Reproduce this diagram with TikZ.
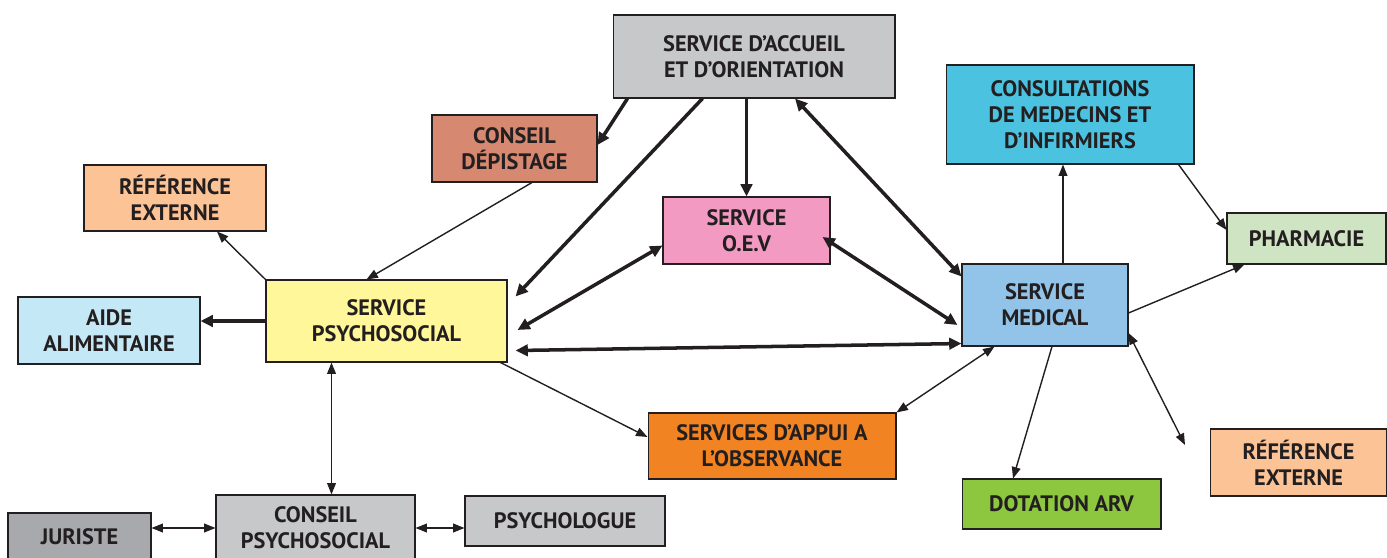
\documentclass[tikz,border=0pt]{standalone}
\usepackage{fontspec}
\setmainfont{PT Sans}
\usetikzlibrary{arrows.meta,positioning}
\definecolor{encre}{HTML}{231F20}
\definecolor{gris}{HTML}{C7C8CA}
\definecolor{grisfonce}{HTML}{A7A9AC}
\definecolor{brique}{HTML}{D78870}
\definecolor{peche}{HTML}{FCC397}
\definecolor{rose}{HTML}{F39AC3}
\definecolor{cyan}{HTML}{4BC3E0}
\definecolor{vertpale}{HTML}{CFE4C3}
\definecolor{jaune}{HTML}{FFF799}
\definecolor{bleupale}{HTML}{C5E8F7}
\definecolor{bleu}{HTML}{92C3E8}
\definecolor{orange}{HTML}{F28322}
\definecolor{vert}{HTML}{8DC63F}
\begin{document}
\begin{tikzpicture}[x=0.02cm,y=-0.02cm,
	box/.style={draw=encre,line width=0.6pt,text=encre,align=center,inner sep=0pt,
		font=\bfseries\fontsize{12.7}{14.7}\selectfont},
	lien/.style={draw=encre,line width=0.8pt,-{Triangle[length=6.5pt,width=5pt]}},
	lien2/.style={draw=encre,line width=0.8pt,{Triangle[length=6.5pt,width=5pt]}-{Triangle[length=6.5pt,width=5pt]}},
	fort/.style={draw=encre,line width=2pt,-{Triangle[length=7pt,width=6.5pt]}},
	fort2/.style={draw=encre,line width=2pt,{Triangle[length=7pt,width=6.5pt]}-{Triangle[length=7pt,width=6.5pt]}}]
	\clip (0,0) rectangle (1387,558);
	% Services
	\node[box,fill=gris,minimum width=5.64cm,minimum height=1.66cm] (accueil) at (754,56.5) {SERVICE D’ACCUEIL\\ET D’ORIENTATION};
	\node[box,fill=brique,minimum width=3.3cm,minimum height=1.34cm] (depist) at (514.5,148.5) {CONSEIL\\DÉPISTAGE};
	\node[box,fill=peche,minimum width=3.64cm,minimum height=1.32cm] (refA) at (175,198) {RÉFÉRENCE\\EXTERNE};
	\node[box,fill=rose,minimum width=3.34cm,minimum height=1.34cm] (oev) at (746.5,230.5) {SERVICE\\O.E.V};
	\node[box,fill=cyan,minimum width=4.96cm,minimum height=1.98cm] (consult) at (1070,114.5) {CONSULTATIONS\\DE MEDECINS ET\\D’INFIRMIERS};
	\node[box,fill=vertpale,minimum width=3.18cm,minimum height=1.02cm] (pharma) at (1306.5,238.5) {PHARMACIE};
	\node[box,fill=jaune,minimum width=4.82cm,minimum height=1.64cm] (psycho) at (386.5,321) {SERVICE\\PSYCHOSOCIAL};
	\node[box,fill=bleupale,minimum width=3.64cm,minimum height=1.34cm] (aide) at (109,330.5) {AIDE\\ALIMENTAIRE};
	\node[box,fill=bleu,minimum width=3.32cm,minimum height=1.64cm] (medical) at (1045,305) {SERVICE\\MEDICAL};
	\node[box,fill=orange,minimum width=4.96cm,minimum height=1.32cm] (appui) at (772,446) {SERVICES D’APPUI A\\L’OBSERVANCE};
	\node[box,fill=vert,minimum width=3.98cm,minimum height=1.0cm] (dotation) at (1061.5,504) {DOTATION ARV};
	\node[box,fill=peche,minimum width=3.54cm,minimum height=1.34cm] (refB) at (1298.5,462.5) {RÉFÉRENCE\\EXTERNE};
	\node[box,fill=grisfonce,minimum width=2.86cm,minimum height=0.96cm] (juriste) at (79.5,537) {JURISTE};
	\node[box,fill=gris,minimum width=3.98cm,minimum height=1.32cm] (cpsy) at (315.5,528) {CONSEIL\\PSYCHOSOCIAL};
	\node[box,fill=gris,minimum width=4.0cm,minimum height=1.0cm] (psychologue) at (565,521) {PSYCHOLOGUE};
	\coordinate (libre) at (1185,445);
	
	% Flux principaux
	\draw[fort] ([xshift=0.3cm]accueil.south west) -- ([yshift=0.07cm]depist.east);
	\draw[fort] ([xshift=1.8cm]accueil.south west) -- ([xshift=0.16cm,yshift=-0.34cm]psycho.north east);
	\draw[fort] (accueil.south -| oev.north) -- (oev.north);
	\draw[fort2] ([xshift=0.82cm]accueil.south) -- ([yshift=-0.26cm]medical.north west);
	\draw[fort] (psycho.west) -- (psycho.west -| aide.east);
	\draw[fort2] ([yshift=-0.3cm]oev.west) -- ([xshift=0.2cm,yshift=-0.18cm]psycho.east);
	\draw[fort2] ([xshift=-0.16cm,yshift=-0.13cm]oev.east) -- ([xshift=-0.08cm,yshift=-0.4cm]medical.west);
	\draw[fort2] ([xshift=0.16cm,yshift=0.24cm]psycho.south east) -- ([yshift=0.06cm]medical.south west);
	
	% Autres liens
	\draw[lien] ([xshift=0.35cm]depist.south) -- ([xshift=-0.4cm]psycho.north);
	\draw[lien] (psycho.north west) -- ([xshift=0.84cm]refA.south);
	\draw[lien] ([xshift=-0.14cm]psycho.south east) -- ([yshift=0.18cm]appui.west);
	\draw[lien2] ([xshift=-1.1cm]psycho.south) -- ([xshift=-1.1cm]psycho.south |- cpsy.north);
	\draw[lien2] (cpsy.west) -- (cpsy.west -| juriste.east);
	\draw[lien2] (cpsy.east) -- (cpsy.east -| psychologue.west);
	\draw[lien] ([xshift=0.36cm]medical.north) -- ([xshift=0.36cm]medical.north |- consult.south);
	\draw[lien] ([xshift=-0.32cm]consult.south east) -- ([yshift=0.17cm]pharma.west);
	\draw[lien] ([yshift=-0.16cm]medical.east) -- ([xshift=0.36cm]pharma.south west);
	\draw[lien2] ([xshift=0.66cm]medical.south west) -- (appui.north east);
	\draw[lien] ([xshift=0.14cm]medical.south) -- ([xshift=-0.97cm]dotation.north);
	\draw[lien2] ([yshift=-0.56cm]medical.east) -- (libre);
\end{tikzpicture}
\end{document}
